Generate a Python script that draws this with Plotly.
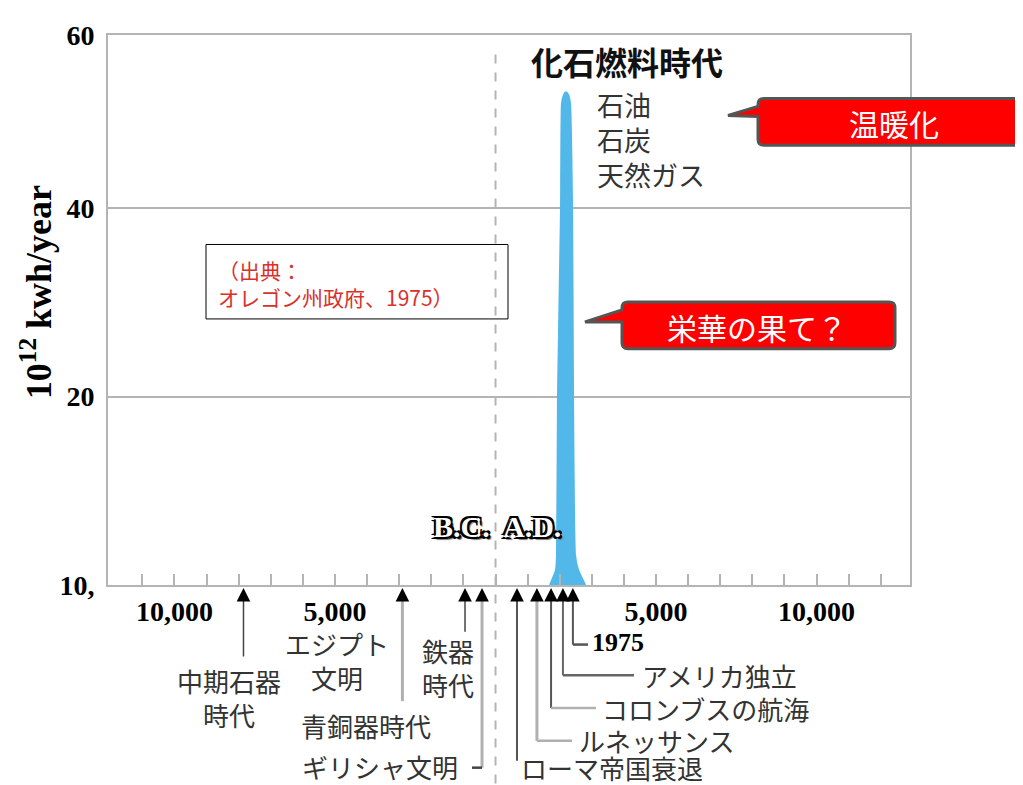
import numpy as np
import plotly.graph_objects as go

# --- data ---
# y axis is not linear in the original: ticks are evenly spaced
Y_TICKS = [10, 20, 40, 60]
Y_TICK_TEXT = ["10,", "20", "40", "60"]
Y_TICK_POS = [0, 1, 2, 2.92]

X_TICKS = list(range(-11000, 13000, 1000))
X_LABELED = {-10000: "10,000", -5000: "5,000", 5000: "5,000", 10000: "10,000"}

# energy use spike (10^12 kwh/year) around the fossil fuel era
spike_year = [1700, 1885, 1915, 1945, 2040, 2070, 2135, 2195, 2260, 2320, 2385, 2415, 2475, 2570, 2790]
spike_energy = [10, 10.8, 11.6, 20, 40, 52.1, 53.1, 53.4, 53.1, 52.1, 40, 20, 11.6, 10.8, 10]

# historical events pointed at below the time axis
event_years = [-7850, -2900, -2900, -950, -420, 670, 1290, 1730, 2100, 2410]
event_names = ["中期石器<br>時代", "エジプト<br>文明", "青銅器時代", "鉄器<br>時代", "ギリシャ文明",
               "ローマ帝国衰退", "ルネッサンス", "コロンブスの航海", "アメリカ独立", "1975"]

# --- page geometry (reference pixels; the page body adds an 8px offset) ---
OFF = 8
W, H = 1023 - OFF, 785 - OFF
L, R, T, B = 108, 910, 31, 585
X_MIN, X_MAX = -12070, 12910


def px_x(x):
    return (x - L) / (R - L)


def px_y(y):
    return (B - y) / (B - T)


def yr_x(year):
    return (year - X_MIN) / (X_MAX - X_MIN)


def ymap(v):
    return np.interp(v, Y_TICKS, Y_TICK_POS)


JP = "Noto Sans CJK JP"
SERIF = "Liberation Serif"
GRAY = "#b4b4b4"

fig = go.Figure()

fig.add_trace(go.Scatter(
    x=spike_year, y=ymap(spike_energy),
    fill="toself", fillcolor="#52b8ea",
    line=dict(color="#52b8ea", width=2, shape="spline", smoothing=0.4),
    mode="lines", hoverinfo="skip", showlegend=False,
))

shapes = []
# dashed B.C./A.D. divider
shapes.append(dict(type="line", xref="x", yref="paper", x0=0, x1=0, y0=px_y(785), y1=px_y(45),
                   line=dict(color=GRAY, width=2, dash="dash")))

# connectors: (event index, elbow y px, elbow end x px, vertical colour, width, horizontal colour)
connectors = [
    (0, 657, None, "#444444", 1.5, None),
    (1, 702, None, "#b0b0b0", 3, None),
    (3, 632, None, "#444444", 1.5, None),
    (4, 769, 472, "#b0b0b0", 3, "#444444"),
    (5, 762, None, "#555555", 2, None),
    (6, 742, 572, "#b0b0b0", 3, "#b0b0b0"),
    (7, 709, 596, "#555555", 2, "#b0b0b0"),
    (8, 676, 634, "#666666", 2, "#666666"),
    (9, 645, 588, "#555555", 2, "#555555"),
]
for i, ey, ex, vc, vw, hc in connectors:
    xx = yr_x(event_years[i])
    shapes.append(dict(type="line", xref="paper", yref="paper", x0=xx, x1=xx,
                       y0=px_y(598), y1=px_y(ey), line=dict(color=vc, width=vw)))
    if ex is not None:
        shapes.append(dict(type="line", xref="paper", yref="paper", x0=xx, x1=px_x(ex),
                           y0=px_y(ey), y1=px_y(ey), line=dict(color=hc, width=2.5)))

# source box
shapes.append(dict(type="rect", xref="paper", yref="paper",
                   x0=px_x(206), x1=px_x(508), y0=px_y(317), y1=px_y(242),
                   line=dict(color="black", width=1)))


def callout(x0, x1, y0, y1, tip, base_top, base_bot, r=6):
    def P(x, y):
        return f"{px_x(x):.5f},{px_y(y):.5f}"
    p = (f"M {P(x0 + r, y0)} L {P(x1 - r, y0)} Q {P(x1, y0)} {P(x1, y0 + r)} "
         f"L {P(x1, y1 - r)} Q {P(x1, y1)} {P(x1 - r, y1)} L {P(x0 + r, y1)} "
         f"Q {P(x0, y1)} {P(x0, y1 - r)} L {P(x0, base_bot)} L {P(*tip)} L {P(x0, base_top)} "
         f"L {P(x0, y0 + r)} Q {P(x0, y0)} {P(x0 + r, y0)} Z")
    return dict(type="path", xref="paper", yref="paper", path=p,
                fillcolor="#ff0000", line=dict(color="#555555", width=3))


shapes.append(callout(758, 1060, 95, 142, (728, 112), 103, 113))
shapes.append(callout(622, 895, 300, 347, (585, 320), 308, 320))

ann = []

# arrowheads pointing up at the time axis
for yr in sorted(set(event_years)):
    ann.append(dict(x=yr, y=px_y(588), xref="x", yref="paper", text="", showarrow=True,
                    ax=0, ay=14, arrowhead=2, arrowsize=1.7, arrowwidth=1.6, arrowcolor="black",
                    standoff=0, startstandoff=0))


def text(t, x, y, size, color="#333333", family=JP, xanchor="center", **kw):
    ann.append(dict(text=t, x=px_x(x), y=px_y(y), xref="paper", yref="paper", showarrow=False,
                    xanchor=xanchor, yanchor="middle", align="left" if xanchor == "left" else "center",
                    font=dict(family=family, size=size, color=color), **kw))


text("<b>10<sup>12</sup> kwh/year</b>", 36, 290, 36, color="black", family=SERIF, textangle=-90)
text("<b>化石燃料時代</b>", 627, 57, 32, color="#111111")
text("石油<br>石炭<br>天然ガス", 595, 136, 27, xanchor="left")
text("温暖化", 894, 120, 30, color="white")
text("栄華の果て？", 757, 325, 30, color="white")
text("（出典：<br>オレゴン州政府、1975）", 216, 281, 21, color="#d9302c", xanchor="left")

label_pos = [(229, 698, "center"), (337, 661, "center"), (366, 727, "center"), (448, 668, "center"),
             (380, 768, "center"), (612, 769, "center"), (577, 742, "left"), (600, 709, "left"),
             (640, 676, "left"), (590, 643, "left")]
for name, (lx, ly, anc) in zip(event_names, label_pos):
    if name == "1975":
        text("<b>1975</b>", lx, ly, 26, color="black", family=SERIF, xanchor=anc)
    else:
        text(name, lx, ly, 26, xanchor=anc)

outline = "-2px -2px 0 #000, 2px -2px 0 #000, -2px 2px 0 #000, 2px 2px 0 #000, 3px 3px 1px #777"
for t, x in [("B.C.", 461), ("A.D.", 532)]:
    ann.append(dict(text=f"<b>{t}</b>", x=px_x(x), y=px_y(545), xref="paper", yref="paper",
                    showarrow=False, font=dict(family=SERIF, size=30, color="white", shadow=outline)))

fig.update_layout(
    width=W, height=H,
    margin=dict(l=L - OFF, r=1023 - R, t=T - OFF, b=785 - B),
    paper_bgcolor="white", plot_bgcolor="white",
    shapes=shapes, annotations=ann,
    xaxis=dict(range=[X_MIN, X_MAX], showgrid=False, zeroline=False,
               showline=True, mirror=True, linecolor=GRAY, linewidth=2,
               tickmode="array", tickvals=X_TICKS,
               ticktext=[X_LABELED.get(v, "") for v in X_TICKS],
               ticks="inside", ticklen=11, tickwidth=2, tickcolor=GRAY,
               tickfont=dict(family=SERIF, size=28, color="black", weight="bold")),
    yaxis=dict(range=[0, Y_TICK_POS[-1]], showgrid=True, gridcolor=GRAY, gridwidth=2,
               zeroline=False, showline=True, mirror=True, linecolor=GRAY, linewidth=2,
               tickmode="array", tickvals=Y_TICK_POS, ticktext=Y_TICK_TEXT, ticks="",
               ticklabelstandoff=6,
               tickfont=dict(family=SERIF, size=28, color="black", weight="bold")),
)

fig.write_html("out.html")
